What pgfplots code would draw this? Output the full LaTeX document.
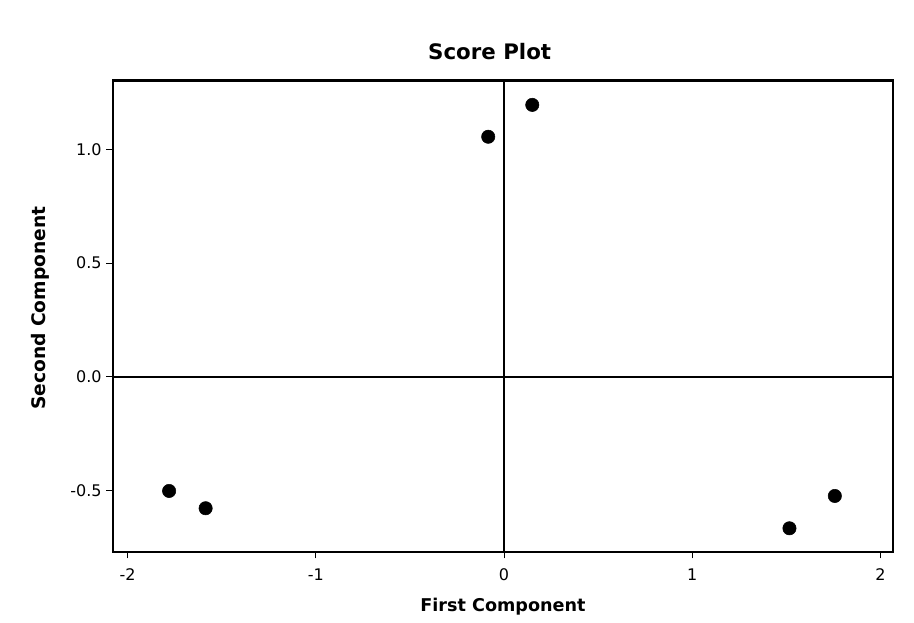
\documentclass[border=0pt]{standalone}
\usepackage{pgfplots}
\pgfplotsset{compat=1.18}
\usepackage{fontspec}
\setmainfont{DejaVu Sans}
\begin{document}
\begin{tikzpicture}
\path[use as bounding box] (0,0) rectangle (685.5pt,466.5pt);
\begin{axis}[
  at={(84.75pt,52.7pt)}, anchor=south west,
  scale only axis, width=585pt, height=353.4pt,
  xmin=-2.077, xmax=2.066, ymin=-0.768, ymax=1.302,
  xtick={-2,-1,0,1,2}, ytick={-0.5,0,0.5,1},
  yticklabel style={/pgf/number format/.cd,fixed,fixed zerofill,precision=1},
  xticklabel style={yshift=-4pt},
  /pgf/number format/assume math mode=true,
  tick align=outside, xtick pos=bottom, ytick pos=left,
  major tick length=5pt,
  tick style={black, line width=0.8pt},
  axis line style={line width=1.6pt},
  ticklabel style={font=\fontsize{12}{14}\selectfont},
  title={\textbf{Score Plot}}, title style={font=\fontsize{16}{18}\selectfont, yshift=6pt, xshift=-10pt},
  xlabel={\textbf{First Component}}, ylabel={\textbf{Second Component}},
  xlabel style={font=\fontsize{13.2}{15}\selectfont, yshift=-6pt},
  ylabel style={font=\fontsize{14}{16}\selectfont, yshift=9pt, xshift=6pt},
  clip=false,
]
\addplot[black, line width=1.1pt, forget plot] coordinates {(0,-0.768) (0,1.302)};
\addplot[black, line width=1.1pt, forget plot] coordinates {(-2.077,0) (2.066,0)};
\addplot[only marks, mark=*, mark size=5pt, black] coordinates {
(-1.779,-0.501) (-1.585,-0.577) (-0.084,1.055) (0.150,1.195) (1.516,-0.665) (1.757,-0.523)
};
\end{axis}
\end{tikzpicture}
\end{document}
